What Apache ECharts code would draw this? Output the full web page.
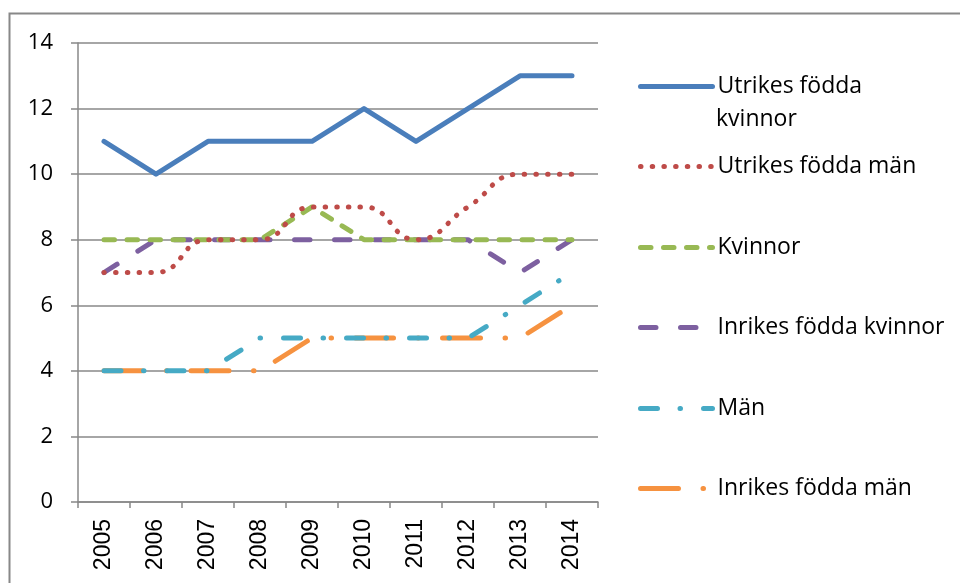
<!DOCTYPE html>
<html><head><meta charset="utf-8">
<script src="https://cdn.jsdelivr.net/npm/echarts@6/dist/echarts.min.js"></script>
<style>html,body{margin:0;padding:0;background:#fff}#c{width:960px;height:583px}</style>
</head><body><div id="c"></div>
<script>
const years = ['2005','2006','2007','2008','2009','2010','2011','2012','2013','2014'];
const yTicks = [0,2,4,6,8,10,12,14];
const utrikesKvinnor = [11,10,11,11,11,12,11,12,13,13];
const utrikesMan = [7,7,8,8,9,9,8,9,10,10];
const kvinnor = [8,8,8,8,9,8,8,8,8,8];
const inrikesKvinnor = [7,8,8,8,8,8,8,8,7,8];
const man = [4,4,4,5,5,5,5,5,6,7];
const inrikesMan = [4,4,4,4,5,5,5,5,5,6];

const names = ['Utrikes födda kvinnor','Utrikes födda män','Kvinnor','Inrikes födda kvinnor','Män','Inrikes födda män'];
const values = [utrikesKvinnor, utrikesMan, kvinnor, inrikesKvinnor, man, inrikesMan];
const colors = ['#4A7EBB','#BE4B48','#98B954','#7D60A0','#46AAC5','#F69240'];
const dashes = ['solid',[0.5,11.2],[10.5,12.5],[15.5,24.5],[17,22.5,0.5,23],[38,24.5,0.5,24]];
const smooth = [false,true,false,false,false,false];
const legendTops = [84,164,245,325,406,486];
const FONT = 'Open Sans';
const LW = 5;

const series = names.map((n,i)=>({
  name:n, type:'line', data:values[i], symbol:'none', smooth:smooth[i]?0.5:false,
  lineStyle:{color:colors[i], width:LW, type:dashes[i], cap:'round', join:'round'},
  itemStyle:{color:colors[i]}, z:10-i
}));

const legends = names.map((n,i)=>({
  data:[n], left:633, top:legendTops[i]-14, itemWidth:72, itemHeight:24, itemGap:0,
  formatter: i===0 ? ()=> 'Utrikes födda' : undefined,
  itemStyle:{opacity:0},
  lineStyle:{width:LW, cap:'round', color:colors[i], type:dashes[i]},
  textStyle:{fontFamily:FONT, fontSize:23, color:'#000', padding:0},
  selectedMode:false
}));

const chart = echarts.init(document.getElementById('c'));
chart.setOption({
  animation:false,
  backgroundColor:'#fff',
  color:colors,
  grid:{left:78, right:362, top:43, bottom:81},
  legend:legends,
  xAxis:{type:'category', data:years, boundaryGap:true,
    axisLine:{lineStyle:{color:'#888', width:1.5}},
    axisTick:{show:true, length:6, lineStyle:{color:'#888', width:1.5}},
    axisLabel:{rotate:90, margin:17, fontFamily:'Liberation Sans', fontSize:23, color:'#000'}},
  yAxis:{type:'value', min:0, max:14, interval:2,
    axisLine:{show:true, lineStyle:{color:'#888', width:1.5}},
    axisTick:{show:true, length:7, lineStyle:{color:'#888', width:1.5}},
    axisLabel:{margin:25, fontFamily:FONT, fontSize:22, color:'#000',
      formatter:v=> yTicks.includes(v)?String(v):''},
    splitLine:{lineStyle:{color:'#888', width:1.5}}},
  series:series,
  graphic:[
    {type:'polyline', shape:{points:[[9.5,583],[9.5,13.5],[960,13.5]]}, style:{stroke:'#888', lineWidth:2, fill:null}, silent:true},
    {type:'text', left:716, top:108, style:{text:'kvinnor', font:'23px "Open Sans"', fill:'#000'}}
  ]
});
</script></body></html>
